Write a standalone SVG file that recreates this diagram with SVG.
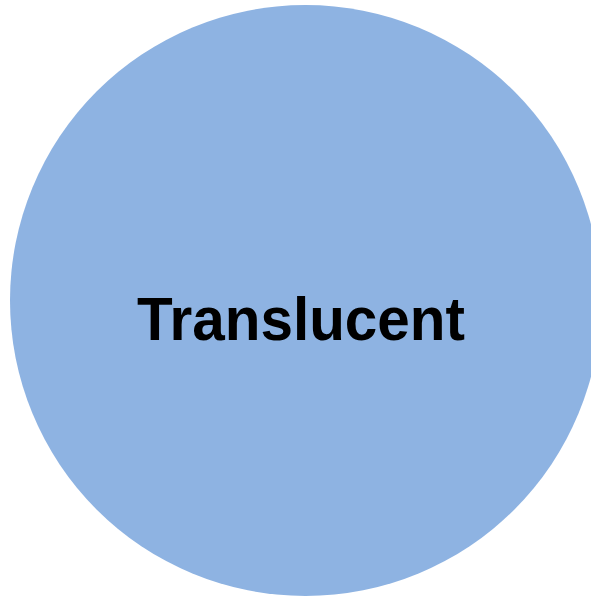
<svg xmlns="http://www.w3.org/2000/svg" width="591" height="597" viewBox="0 0 591 597">
<style>
.lbl{font-family:"Liberation Sans",Arial,sans-serif;font-weight:bold;font-size:62px;fill:#000}
</style>
<rect width="591" height="597" fill="#fff"/>
<g id="node-translucent">
<circle cx="305.5" cy="300.5" r="295.5" fill="#8EB3E2"/>
<text class="lbl" x="137" y="340" textLength="328" lengthAdjust="spacingAndGlyphs">Translucent</text>
</g>
</svg>
